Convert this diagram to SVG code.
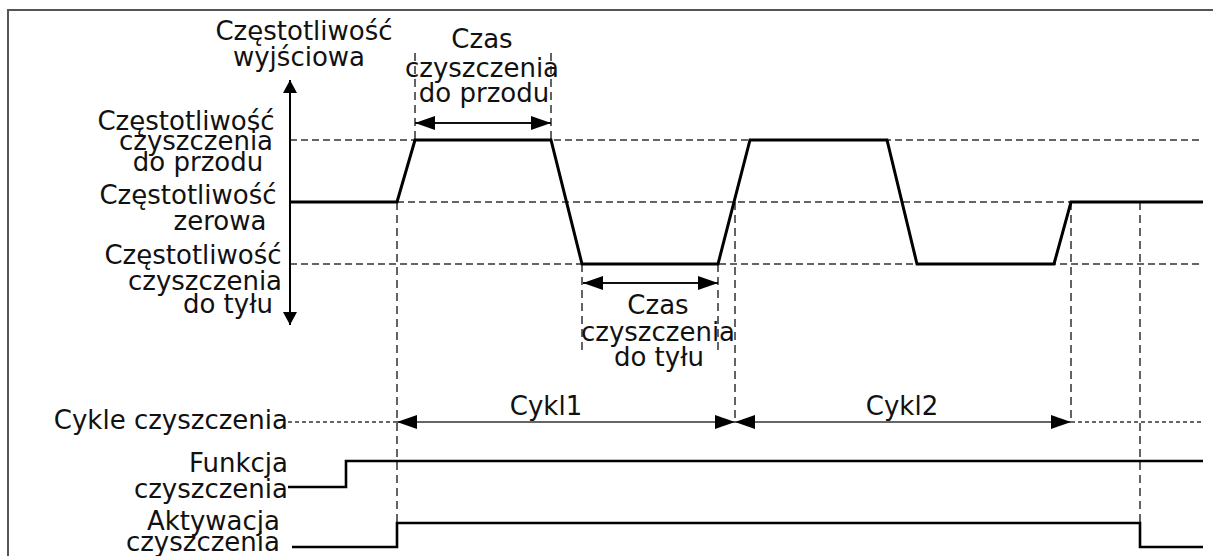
<svg xmlns="http://www.w3.org/2000/svg" width="1215" height="556" viewBox="0 0 1215 556">
<style>
text{font-family:"DejaVu Sans","Verdana",sans-serif;font-size:26px;fill:#111}
.m{text-anchor:middle}
.e{text-anchor:end}
.wave{fill:none;stroke:#000;stroke-width:3;stroke-linejoin:miter}
.sig{fill:none;stroke:#000;stroke-width:2.6}
.hd{fill:none;stroke:#333;stroke-width:1.4;stroke-dasharray:7,4}
.vd{fill:none;stroke:#222;stroke-width:1.4;stroke-dasharray:8,5}
.dot{fill:none;stroke:#333;stroke-width:1.4;stroke-dasharray:4,3}
.dim{fill:none;stroke:#111;stroke-width:1.8}
.cyc{fill:none;stroke:#333;stroke-width:1.6}
</style>
<defs>
<marker id="ah" markerUnits="userSpaceOnUse" markerWidth="20" markerHeight="14" refX="20" refY="7" orient="auto-start-reverse">
<path d="M0,0 L20,7 L0,14 Z" fill="#000"/>
</marker>
<marker id="ax" markerUnits="userSpaceOnUse" markerWidth="14" markerHeight="14" refX="13" refY="7" orient="auto-start-reverse">
<path d="M0,0 L13,7 L0,14 Z" fill="#000"/>
</marker>
</defs>
<rect width="1215" height="556" fill="#fff"/>
<path d="M8,556 V10 H1213" fill="none" stroke="#555" stroke-width="2"/>

<g id="connectors">
<line class="hd" x1="290" y1="140" x2="1203" y2="140"/>
<line class="hd" x1="397" y1="202" x2="1203" y2="202"/>
<line class="hd" x1="290" y1="264" x2="1203" y2="264"/>
<line class="vd" x1="397" y1="202" x2="397" y2="548"/>
<line class="vd" x1="415" y1="53" x2="415" y2="140"/>
<line class="vd" x1="551" y1="53" x2="551" y2="140"/>
<line class="vd" x1="582" y1="264" x2="582" y2="350"/>
<line class="vd" x1="718" y1="264" x2="718" y2="350"/>
<line class="vd" x1="735" y1="202" x2="735" y2="422"/>
<line class="vd" x1="1071" y1="202" x2="1071" y2="422"/>
<line class="vd" x1="1140" y1="202" x2="1140" y2="548"/>
<line class="dot" x1="288" y1="422" x2="397" y2="422"/>
<line class="dot" x1="1071" y1="422" x2="1203" y2="422"/>
<line class="dim" x1="415" y1="123" x2="551" y2="123" marker-start="url(#ah)" marker-end="url(#ah)"/>
<line class="dim" x1="583" y1="283" x2="718" y2="283" marker-start="url(#ah)" marker-end="url(#ah)"/>
<line class="cyc" x1="397" y1="422" x2="735" y2="422" marker-start="url(#ah)" marker-end="url(#ah)"/>
<line class="cyc" x1="735" y1="422" x2="1071" y2="422" marker-start="url(#ah)" marker-end="url(#ah)"/>
</g>

<g id="axis">
<line x1="290" y1="80" x2="290" y2="325" stroke="#000" stroke-width="2" marker-start="url(#ax)" marker-end="url(#ax)"/>
</g>

<g id="output-frequency">
<polyline class="wave" points="290,202 397,202 415,140 551,140 582,264 718,264 750,140 887,140 917,264 1054,264 1071,202 1203,202"/>
</g>

<g id="cleaning-function">
<polyline class="sig" points="288,487 346,487 346,461 1203,461"/>
</g>

<g id="cleaning-activation">
<polyline class="sig" points="292,547 397,547 397,523 1140,523 1140,547 1203,547"/>
</g>

<g id="labels">
<text class="m" x="304" y="40">Częstotliwość</text>
<text class="m" x="299" y="66">wyjściowa</text>
<text class="m" x="186" y="130">Częstotliwość</text>
<text class="m" x="196" y="150">czyszczenia</text>
<text class="m" x="198" y="171">do przodu</text>
<text class="m" x="188" y="204">Częstotliwość</text>
<text class="m" x="220" y="230">zerowa</text>
<text class="m" x="193" y="264">Częstotliwość</text>
<text class="m" x="205" y="290">czyszczenia</text>
<text class="m" x="228" y="313">do tyłu</text>
<text class="m" x="482" y="48">Czas</text>
<text class="m" x="482" y="77">czyszczenia</text>
<text class="m" x="484" y="102">do przodu</text>
<text class="m" x="658" y="314">Czas</text>
<text class="m" x="658" y="341">czyszczenia</text>
<text class="m" x="659" y="366">do tyłu</text>
<text class="m" x="546" y="415">Cykl1</text>
<text class="m" x="902" y="415">Cykl2</text>
<text class="e" x="288" y="429">Cykle czyszczenia</text>
<text class="e" x="288" y="472">Funkcja</text>
<text class="e" x="288" y="498">czyszczenia</text>
<text class="e" x="280" y="530">Aktywacja</text>
<text class="e" x="280" y="551">czyszczenia</text>
</g>
</svg>
